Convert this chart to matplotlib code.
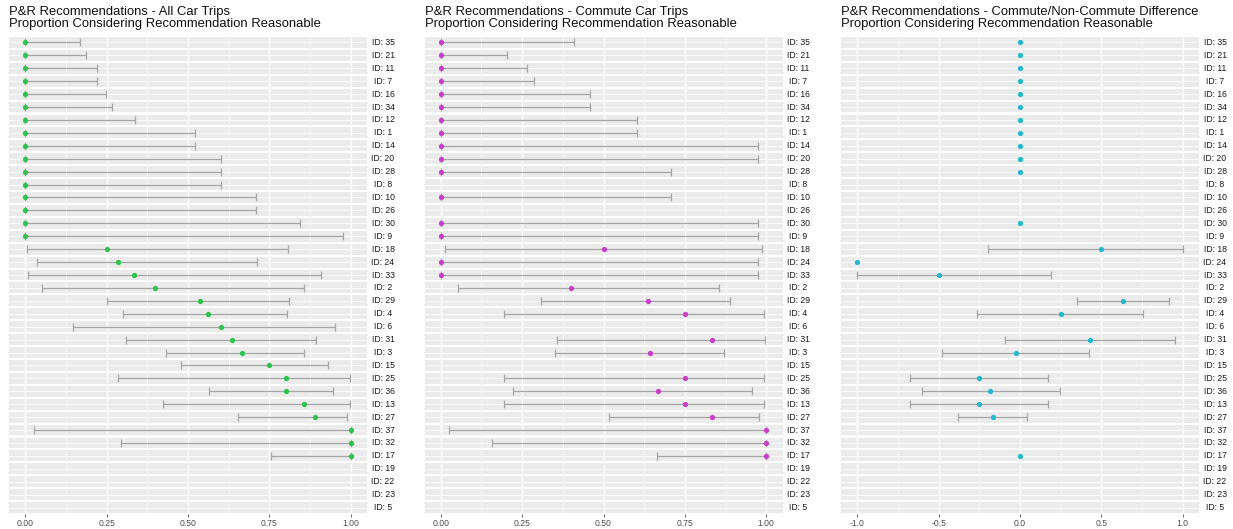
import numpy as np
import matplotlib
matplotlib.use("Agg")
import matplotlib.pyplot as plt
from matplotlib.transforms import blended_transform_factory, ScaledTranslation

plt.rcParams["font.family"] = ["Liberation Sans", "DejaVu Sans"]

# Respondent IDs, top to bottom
ids = [35, 21, 11, 7, 16, 34, 12, 1, 14, 20, 28, 8, 10, 26, 30, 9, 18, 24, 33,
       2, 29, 4, 6, 31, 3, 15, 25, 36, 13, 27, 37, 32, 17, 19, 22, 23, 5]
nan = np.nan

# All car trips: proportion reasonable with interval bounds
all_est = [0, 0, 0, 0, 0, 0, 0, 0, 0, 0, 0, 0, 0, 0, 0, 0, 0.25, 0.286, 0.333,
           0.40, 0.538, 0.5625, 0.60, 0.636, 0.667, 0.75, 0.80, 0.80, 0.857, 0.889,
           1.0, 1.0, 1.0, nan, nan, nan, nan]
all_lo = [0, 0, 0, 0, 0, 0, 0, 0, 0, 0, 0, 0, 0, 0, 0, 0, 0.006, 0.037, 0.009,
          0.052, 0.252, 0.300, 0.147, 0.309, 0.431, 0.478, 0.284, 0.565, 0.422, 0.654,
          0.027, 0.293, 0.755, nan, nan, nan, nan]
all_hi = [0.169, 0.187, 0.219, 0.219, 0.248, 0.265, 0.337, 0.523, 0.523, 0.602, 0.602,
          0.602, 0.710, 0.710, 0.844, 0.977, 0.807, 0.711, 0.908, 0.855, 0.810, 0.805,
          0.951, 0.892, 0.855, 0.930, 0.997, 0.945, 0.997, 0.990, 1.0, 1.0, 1.0,
          nan, nan, nan, nan]

# Commute car trips
com_est = [0, 0, 0, 0, 0, 0, 0, 0, 0, 0, 0, nan, 0, nan, 0, 0, 0.50, 0, 0,
           0.40, 0.636, 0.75, nan, 0.833, 0.642, nan, 0.75, 0.667, 0.75, 0.833,
           1.0, 1.0, 1.0, nan, nan, nan, nan]
com_lo = [0, 0, 0, 0, 0, 0, 0, 0, 0, 0, 0, nan, 0, nan, 0, 0, 0.012, 0, 0,
          0.053, 0.308, 0.194, nan, 0.358, 0.351, nan, 0.194, 0.223, 0.194, 0.516,
          0.025, 0.158, 0.663, nan, nan, nan, nan]
com_hi = [0.409, 0.205, 0.264, 0.285, 0.458, 0.458, 0.602, 0.602, 0.975, 0.975, 0.707,
          nan, 0.707, nan, 0.975, 0.975, 0.987, 0.975, 0.975, 0.855, 0.890, 0.993,
          nan, 0.995, 0.871, nan, 0.993, 0.957, 0.993, 0.978, 1.0, 1.0, 1.0,
          nan, nan, nan, nan]

# Commute minus non-commute difference
dif_est = [0, 0, 0, 0, 0, 0, 0, 0, 0, 0, 0, nan, nan, nan, 0, nan, 0.50, -1.0, -0.50,
           nan, 0.634, 0.25, nan, 0.431, -0.025, nan, -0.25, -0.182, -0.25, -0.168,
           nan, nan, 0, nan, nan, nan, nan]
dif_lo = [nan] * 16 + [-0.194, nan, -1.0, nan, 0.349, -0.262, nan, -0.090, -0.477,
                       nan, -0.675, -0.605, -0.675, -0.379] + [nan] * 7
dif_hi = [nan] * 16 + [1.0, nan, 0.190, nan, 0.918, 0.756, nan, 0.953, 0.427,
                       nan, 0.174, 0.245, 0.174, 0.045] + [nan] * 7

panels = [
    dict(title="P&R Recommendations - All Car Trips", est=all_est, lo=all_lo, hi=all_hi,
         color="#2EC24F", xlim=(-0.05, 1.05), ticks=[0, 0.25, 0.5, 0.75, 1.0],
         labels=["0.00", "0.25", "0.50", "0.75", "1.00"], left=9),
    dict(title="P&R Recommendations - Commute Car Trips", est=com_est, lo=com_lo, hi=com_hi,
         color="#C93FC9", xlim=(-0.05, 1.05), ticks=[0, 0.25, 0.5, 0.75, 1.0],
         labels=["0.00", "0.25", "0.50", "0.75", "1.00"], left=424.5),
    dict(title="P&R Recommendations - Commute/Non-Commute Difference", est=dif_est,
         lo=dif_lo, hi=dif_hi, color="#25B7CE", xlim=(-1.1, 1.1),
         ticks=[-1.0, -0.5, 0.0, 0.5, 1.0], labels=["-1.0", "-0.5", "0.0", "0.5", "1.0"],
         left=841),
]

W, H = 1233, 529
fig = plt.figure(figsize=(W / 100, H / 100), dpi=100)
top_px, bot_px, width_px = 36, 514, 358
n = len(ids)
half = 0.42
rows = np.arange(n)

for p in panels:
    ax = fig.add_axes([p["left"] / W, 1 - bot_px / H, width_px / W, (bot_px - top_px) / H])
    ax.set_facecolor("white")
    for s in ax.spines.values():
        s.set_visible(False)
    ax.set_xlim(*p["xlim"])
    ax.set_ylim(n - 0.5, -0.5)

    # facet strips: grey band per ID with white grid
    for r in rows:
        ax.axhspan(r - half, r + half, color="#EBEBEB", lw=0, zorder=0.1)
        ax.axhline(r, color="white", lw=0.6, zorder=0.3)
    t = np.array(p["ticks"])
    minor = (t[:-1] + t[1:]) / 2
    for xv in t:
        ax.axvline(xv, color="white", lw=1.0, zorder=0.3)
    for xv in minor:
        ax.axvline(xv, color="white", lw=0.5, zorder=0.3)
    # restore white gaps between strips
    for r in rows[:-1]:
        ax.axhspan(r + half, r + 1 - half, color="white", lw=0, zorder=0.4)

    est = np.array(p["est"], float)
    lo = np.array(p["lo"], float)
    hi = np.array(p["hi"], float)
    m = ~np.isnan(lo)
    ax.errorbar(est[m], rows[m], xerr=[est[m] - lo[m], hi[m] - est[m]], fmt="none",
                ecolor="#A6A6A6", elinewidth=0.9, capsize=2.6, capthick=0.9, zorder=2)
    ok = ~np.isnan(est)
    ax.plot(est[ok], rows[ok], "o", color=p["color"], ms=3.8, mew=0, zorder=3)

    ax.set_xticks(t)
    ax.set_xticklabels(p["labels"])
    ax.set_yticks([])
    ax.tick_params(axis="x", length=2, width=0.5, color="#333333", labelsize=6.2,
                   labelcolor="#4D4D4D", pad=1.5)

    tr = blended_transform_factory(ax.transAxes, ax.transData) + \
        ScaledTranslation(0.16, 0, fig.dpi_scale_trans)
    for r, i in zip(rows, ids):
        ax.text(1.0, r, f"ID: {i}", transform=tr, ha="center", va="center",
                fontsize=6.2, color="#1A1A1A")

    fig.text(p["left"] / W, 1 - 15 / H, p["title"], fontsize=9.4, color="#111111",
             ha="left", va="baseline")
    fig.text(p["left"] / W, 1 - 27.5 / H, "Proportion Considering Recommendation Reasonable",
             fontsize=9.4, color="#111111", ha="left", va="baseline")

fig.savefig("out.png", dpi=100)
